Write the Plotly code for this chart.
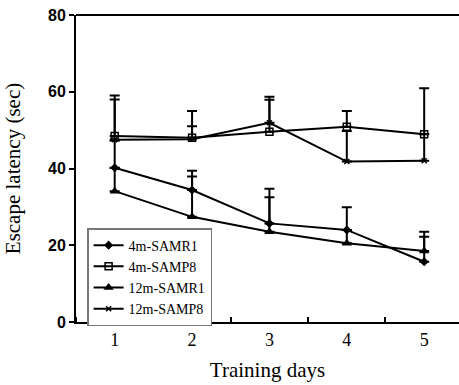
import plotly.graph_objects as go

days = [1, 2, 3, 4, 5]
day_labels = ["1", "2", "3", "4", "5"]

samr1_4m = [40.2, 34.4, 25.7, 24.0, 15.7]
samr1_4m_err = [7.0, 5.0, 9.0, 5.9, 7.8]

samp8_4m = [48.5, 48.0, 49.6, 50.9, 48.9]
samp8_4m_err = [10.5, 7.0, 8.3, 4.1, 12.0]

samr1_12m = [34.1, 27.4, 23.5, 20.5, 18.5]
samr1_12m_err = [6.0, 10.5, 9.0, 3.5, 3.7]

samp8_12m = [47.5, 47.6, 51.9, 41.8, 42.0]
samp8_12m_err = [10.5, 3.4, 6.8, 8.0, 7.0]

y_ticks = [0, 20, 40, 60, 80]

series = [
    ("4m-SAMR1", samr1_4m, samr1_4m_err, dict(symbol="diamond", size=7, color="black")),
    ("4m-SAMP8", samp8_4m, samp8_4m_err, dict(symbol="square-open", size=7, color="black", line=dict(width=1.5, color="black"))),
    ("12m-SAMR1", samr1_12m, samr1_12m_err, dict(symbol="triangle-up", size=9, color="black")),
    ("12m-SAMP8", samp8_12m, samp8_12m_err, dict(symbol="x-thin-open", size=5, color="black", line=dict(width=1.5, color="black"))),
]

fig = go.Figure()
for i, (name, vals, errs, marker) in enumerate(series):
    fig.add_trace(go.Scatter(
        x=days, y=vals, name=name, mode="lines+markers",
        legendgroup="g%d" % i,
        line=dict(color="black", width=2),
        marker=marker,
        error_y=dict(type="data", symmetric=False, array=errs,
                     arrayminus=[0] * len(errs), color="black",
                     thickness=2, width=5),
    ))

fig.add_shape(type="line", xref="paper", yref="paper", x0=0, x1=1, y0=1, y1=1,
              line=dict(color="black", width=2))

fig.update_layout(
    width=459, height=385,
    margin=dict(l=76, r=0, t=15, b=63),
    paper_bgcolor="white", plot_bgcolor="white",
    showlegend=True,
    legend=dict(
        x=0.029, y=0.306, xanchor="left", yanchor="top",
        bordercolor="#777777", borderwidth=1.5, bgcolor="white",
        font=dict(family="Liberation Serif", size=14, color="black"),
        tracegroupgap=0,
    ),
)

fig.update_xaxes(
    range=[0.5, 5.45], tickmode="array", tickvals=days, ticktext=day_labels,
    ticks="", showgrid=False, zeroline=False,
    showline=True, linecolor="black", linewidth=2, mirror=False,
    tickfont=dict(family="Liberation Serif", size=18, color="black"),
    minor=dict(tick0=0.5, dtick=1, ticks="inside", ticklen=5, tickwidth=2, tickcolor="black"),
    title=dict(text="Training days", font=dict(family="Liberation Serif", size=21, color="black"), standoff=14),
)
fig.update_yaxes(
    range=[0, 80], tickmode="array", tickvals=y_ticks,
    ticks="outside", ticklen=5, tickwidth=2, tickcolor="black",
    showgrid=False, zeroline=False,
    showline=True, linecolor="black", linewidth=2,
    tickfont=dict(family="Liberation Sans", size=16, color="black", weight="bold"),
    title=dict(text="Escape latency (sec)", font=dict(family="Liberation Serif", size=21, color="black"), standoff=22),
)

fig.write_html("out.html")
